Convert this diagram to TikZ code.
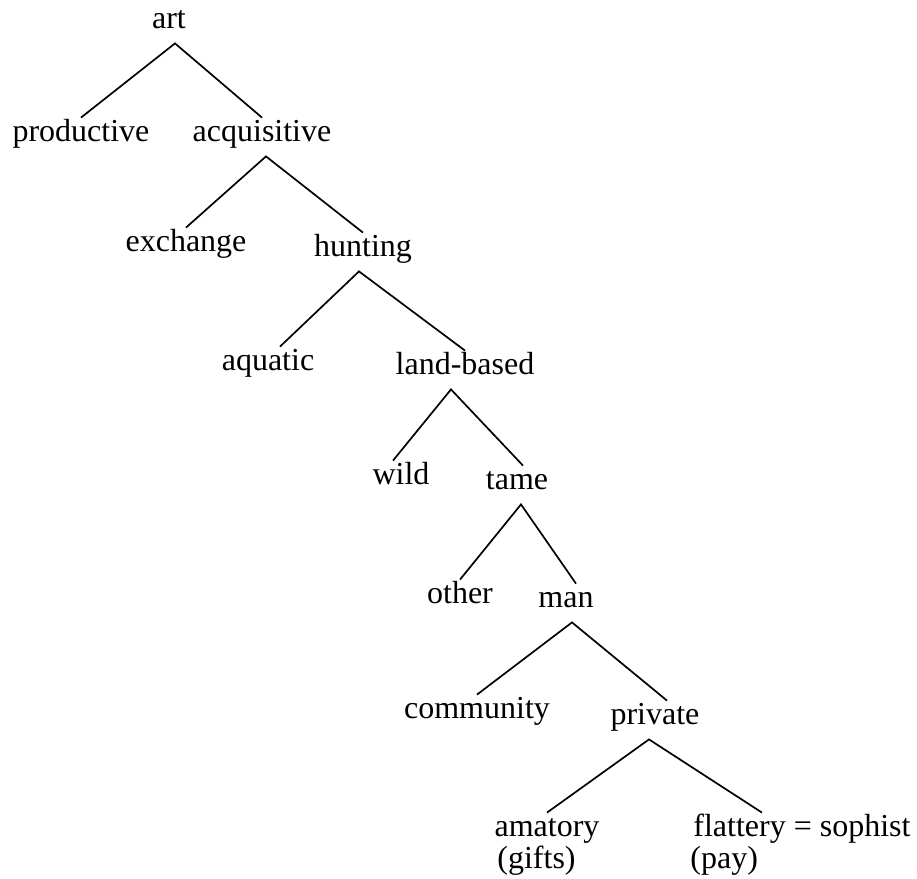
\documentclass[tikz,border=0pt]{standalone}
\usepackage{fontspec}
\setmainfont{Liberation Serif}

\begin{document}
\begin{tikzpicture}[x=0.5pt, y=-0.5pt,
  word/.style={anchor=base, inner xsep=1pt, inner ysep=4pt, text height=7.5pt,
               text depth=3.5pt, font=\fontsize{16}{19}\selectfont},
  note/.style={anchor=base west, inner sep=0pt, font=\fontsize{16}{19}\selectfont},
  branch/.style={line width=0.85pt}
]
  \useasboundingbox (0,0) rectangle (917,879);

  \node[word] (art)   at (169, 28)  {art};
  \node[word] (prod)  at (81, 141)  {productive};
  \node[word] (acq)   at (262, 141) {acquisitive};
  \node[word] (exch)  at (186, 251) {exchange};
  \node[word] (hunt)  at (363, 256) {hunting};
  \node[word] (aqua)  at (268, 370) {aquatic};
  \node[word] (land)  at (465, 374) {land-based};
  \node[word] (wild)  at (401, 484) {wild};
  \node[word] (tame)  at (517, 489) {tame};
  \node[word] (other) at (460, 603) {other};
  \node[word] (man)   at (566, 607) {man};
  \node[word] (comm)  at (477, 718) {community};
  \node[word] (priv)  at (655, 724) {private};
  \node[word] (amat)  at (547, 836) {amatory};
  \node[word] (flat)  at (802, 836) {flattery = sophist};
  \node[note] (gifts) at (497, 868) {(gifts)};
  \node[note] (pay)   at (690, 868) {(pay)};

  % the divisions
  \draw[branch] (prod.north) -- ([xshift=3pt]art.south) -- (acq.north);
  \draw[branch] (exch.north) -- ([xshift=2pt]acq.south) -- (hunt.north);
  \draw[branch] ([xshift=6pt]aqua.north) -- ([xshift=-2pt]hunt.south) -- (land.north);
  \draw[branch] ([xshift=-4pt]wild.north) -- ([xshift=-7pt]land.south) -- ([xshift=3pt]tame.north);
  \draw[branch] (other.north) -- ([xshift=2pt]tame.south) -- ([xshift=5pt]man.north);
  \draw[branch] (comm.north) -- ([xshift=3pt]man.south) -- ([xshift=6pt]priv.north);
  \draw[branch] (amat.north) -- ([xshift=-3pt]priv.south) -- ([xshift=-20pt]flat.north);
\end{tikzpicture}
\end{document}
